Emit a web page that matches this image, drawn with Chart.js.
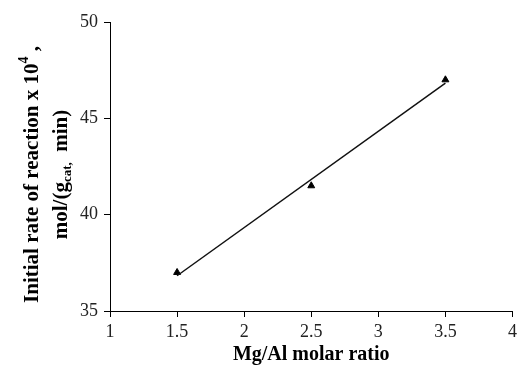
<!DOCTYPE html>
<html>
<head>
<meta charset="utf-8">
<script src="https://cdn.jsdelivr.net/npm/chart.js@4"></script>
<style>
  html, body { margin: 0; padding: 0; background: #fff; }
  #wrap { width: 521px; height: 367px; }
</style>
</head>
<body>
<div id="wrap"><canvas id="chart" width="521" height="367"></canvas></div>
<script>
const ratios = [1.5, 2.5, 3.5];
const rates = [37.0, 41.5, 47.0];

// linear trendline end points
const trendX = [1.5, 3.5];
const trendY = [36.83, 46.83];

const xTicks = [1, 1.5, 2, 2.5, 3, 3.5, 4];
const yTicks = [35, 40, 45, 50];

const serif = "'Liberation Serif', 'Times New Roman', serif";

// y title has a superscript and a subscript, so draw it by hand
const yTitlePlugin = {
  id: "yTitle",
  afterDraw(chart) {
    const ctx = chart.ctx;
    const area = chart.chartArea;
    const cy = (area.top + area.bottom) / 2 + 8;

    function drawParts(parts, x) {
      let total = 0;
      parts.forEach((p) => {
        ctx.font = p.font;
        p.w = ctx.measureText(p.text).width;
        total += p.w;
      });
      ctx.save();
      ctx.translate(x, cy);
      ctx.rotate(-Math.PI / 2);
      ctx.fillStyle = "#000";
      ctx.textBaseline = "alphabetic";
      let pos = -total / 2;
      parts.forEach((p) => {
        ctx.font = p.font;
        ctx.fillText(p.text, pos, p.dy || 0);
        pos += p.w;
      });
      ctx.restore();
    }

    drawParts([
      { text: "Initial rate of reaction x 10", font: "bold 21px " + serif },
      { text: "4", font: "bold 14px " + serif, dy: -10 },
      { text: " ,", font: "bold 21px " + serif }
    ], 38);

    drawParts([
      { text: "mol/(g", font: "bold 21px " + serif },
      { text: "cat,", font: "bold 13px " + serif, dy: 4 },
      { text: "  min)", font: "bold 21px " + serif }
    ], 67);
  }
};

new Chart(document.getElementById("chart"), {
  type: "scatter",
  data: {
    datasets: [
      {
        data: trendX.map((x, i) => ({ x, y: trendY[i] })),
        showLine: true,
        borderColor: "#111",
        borderWidth: 1.5,
        pointRadius: 0
      },
      {
        data: ratios.map((x, i) => ({ x, y: rates[i] })),
        pointStyle: "triangle",
        pointRadius: 4,
        backgroundColor: "#000",
        borderColor: "#000",
        borderWidth: 1
      }
    ]
  },
  options: {
    responsive: false,
    animation: false,
    layout: { padding: { top: 22, right: 3, left: 0, bottom: 0 } },
    plugins: {
      legend: { display: false },
      tooltip: { enabled: false }
    },
    scales: {
      x: {
        type: "linear",
        min: 1,
        max: 4,
        afterBuildTicks: (s) => { s.ticks = xTicks.map((v) => ({ value: v })); },
        border: { color: "#000", width: 1 },
        grid: { drawOnChartArea: false, color: "#000", tickLength: 6 },
        ticks: {
          color: "#222",
          padding: 4,
          font: { family: serif, size: 18 },
          callback: (v) => String(v)
        },
        title: {
          display: true,
          text: "Mg/Al molar ratio",
          color: "#000",
          padding: { top: 2, bottom: 0 },
          font: { family: serif, size: 20, weight: "bold" }
        },
        afterFit: (s) => { s.height = 56; }
      },
      y: {
        min: 35,
        max: 50,
        afterBuildTicks: (s) => { s.ticks = yTicks.map((v) => ({ value: v })); },
        border: { color: "#000", width: 1 },
        grid: { drawOnChartArea: false, color: "#000", tickLength: 6 },
        ticks: {
          color: "#222",
          padding: 6,
          font: { family: serif, size: 18 }
        },
        afterFit: (s) => { s.width = 110; }
      }
    }
  },
  plugins: [yTitlePlugin]
});
</script>
</body>
</html>
